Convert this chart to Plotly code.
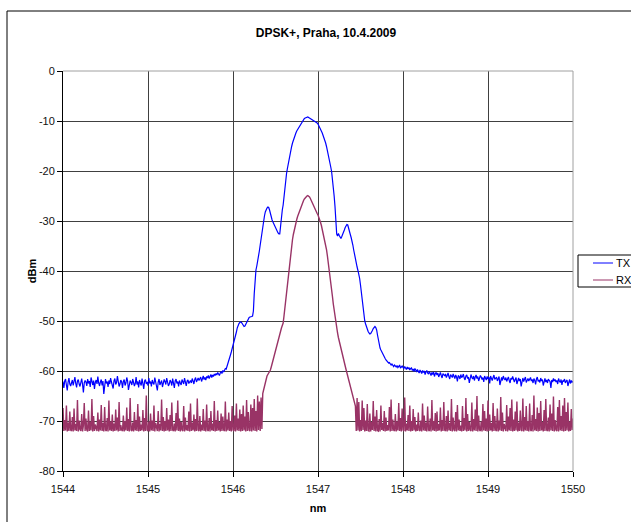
import plotly.graph_objects as go

# Wavelength sampling grid of the spectrum (nm)
wl_start = 1544.0
wl_step = 0.01

# TX spectrum (dBm), one value per 0.01 nm, rows of 0.1 nm
tx_dbm = [
    -62.1, -63.4, -62.0, -61.6, -62.8, -63.9, -62.2, -61.4, -62.6, -63.0,
    -62.4, -61.8, -62.9, -62.1, -61.2, -62.5, -63.3, -62.0, -61.7, -62.6,
    -63.1, -62.3, -61.5, -62.7, -64.3, -62.4, -61.9, -62.2, -63.0, -61.6,
    -62.5, -62.0, -63.2, -61.3, -62.1, -62.8, -61.9, -63.6, -62.3, -61.8,
    -62.6, -61.1, -62.4, -63.0, -62.2, -61.7, -62.9, -62.0, -64.6, -62.3,
    -61.6, -62.5, -62.1, -63.2, -61.9, -62.6, -61.4, -62.2, -62.8, -63.5,
    -62.0, -61.5, -62.7, -62.3, -61.0, -62.4, -63.1, -62.6, -61.8, -62.2,
    -63.4, -62.1, -61.7, -62.9, -62.4, -61.3, -62.0, -63.8, -62.5, -61.9,
    -62.3, -62.8, -61.6, -62.2, -63.0, -62.5, -61.2, -62.7, -62.1, -63.3,
    -61.8, -62.4, -62.9, -61.5, -62.3, -63.6, -62.0, -61.7, -62.6, -62.2,
    -62.9, -61.4, -62.5, -62.1, -63.1, -61.8, -62.4, -62.7, -61.3, -62.0,
    -62.6, -63.9, -62.2, -61.6, -62.8, -62.3, -61.9, -63.2, -62.5, -61.7,
    -62.1, -62.7, -61.4, -62.4, -63.0, -62.6, -61.8, -62.2, -62.9, -61.5,
    -62.3, -63.4, -62.0, -61.6, -62.5, -62.1, -63.1, -61.9, -62.4, -62.8,
    -61.7, -62.2, -62.6, -61.4, -62.3, -63.0, -62.0, -61.8, -62.5, -62.1,
    -61.9, -62.4, -61.5, -62.0, -62.6, -61.7, -61.3, -62.2, -61.8, -61.4,
    -61.9, -61.6, -61.2, -62.1, -61.5, -61.0, -61.7, -61.3, -61.8, -61.1,
    -61.4, -60.9, -61.5, -61.0, -60.7, -61.3, -60.8, -61.1, -60.6, -60.9,
    -60.5, -60.8, -60.3, -60.6, -60.9, -60.4, -60.1, -60.5, -59.9, -60.2,
    -59.8, -59.5, -59.6, -59.1, -58.6, -58.2, -57.5, -56.8, -56.2, -55.6,
    -55.1, -54.3, -53.5, -52.8, -52.2, -51.4, -50.8, -50.5, -50.3, -50.2,
    -50.3, -50.6, -50.9, -51.1, -51.0, -50.6, -50.2, -49.8, -49.5, -49.3,
    -49.2, -49.2, -49.1, -49.0, -48.0, -44.5, -40.8, -39.8, -39.0, -38.2,
    -37.2, -36.0, -34.8, -33.5, -32.3, -31.2, -30.0, -29.0, -28.2, -27.7,
    -27.4, -27.2, -27.3, -27.8, -28.6, -29.3, -29.8, -30.2, -30.6, -31.0,
    -31.4, -31.8, -32.1, -32.4, -32.6, -32.6, -31.0, -29.0, -27.8, -26.8,
    -24.8, -23.0, -21.4, -20.5, -19.5, -18.5, -17.6, -16.7, -15.9, -15.1,
    -14.4, -13.8, -13.3, -12.8, -12.4, -12.0, -11.7, -11.4, -11.0, -10.7,
    -10.4, -10.1, -9.9, -9.7, -9.5, -9.4, -9.3, -9.2, -9.2, -9.3,
    -9.4, -9.5, -9.6, -9.8, -9.9, -10.0, -10.1, -10.2, -10.3, -10.4,
    -10.6, -10.9, -11.2, -11.6, -12.0, -12.4, -12.9, -13.3, -13.8, -14.4,
    -15.1, -15.8, -16.6, -17.4, -18.3, -19.2, -20.1, -21.5, -23.0, -25.0,
    -27.1, -30.0, -32.6, -33.0, -32.5, -32.9, -33.4, -33.5, -33.1, -32.5,
    -32.2, -31.8, -31.3, -30.9, -30.7, -30.8, -31.3, -32.0, -32.7, -33.3,
    -33.9, -34.8, -35.8, -36.8, -37.7, -38.5, -39.2, -39.9, -40.5, -41.5,
    -42.8, -44.5, -46.2, -47.6, -48.8, -50.0, -50.6, -51.2, -51.7, -52.1,
    -52.4, -52.6, -52.5, -52.3, -51.9, -51.5, -51.2, -51.1, -51.3, -51.8,
    -52.8, -53.9, -54.8, -55.4, -55.8, -56.2, -56.6, -57.0, -57.3, -57.5,
    -57.8, -58.1, -58.2, -58.4, -58.3, -58.6, -58.8, -58.6, -58.9, -59.1,
    -58.8, -59.0, -59.2, -58.9, -59.3, -59.1, -58.8, -59.4, -59.2, -59.0,
    -59.3, -59.5, -59.1, -59.4, -59.7, -59.2, -59.6, -59.3, -59.8, -59.5,
    -59.4, -59.9, -59.6, -60.1, -59.5, -59.8, -60.2, -59.7, -60.0, -60.4,
    -59.8, -60.1, -60.5, -59.9, -60.3, -60.0, -60.7, -60.2, -59.9, -60.4,
    -60.6, -60.1, -60.4, -60.9, -60.3, -60.7, -60.2, -61.1, -60.5, -60.3,
    -60.8, -60.4, -61.2, -60.6, -60.3, -60.9, -61.4, -60.5, -60.8, -61.0,
    -60.6, -61.3, -60.9, -60.4, -61.1, -61.6, -60.7, -60.9, -61.3, -60.6,
    -61.0, -61.5, -60.8, -61.2, -62.1, -60.9, -61.1, -61.6, -60.7, -61.3,
    -61.1, -60.6, -61.4, -61.8, -61.0, -60.8, -61.5, -61.2, -62.4, -61.0,
    -60.7, -61.3, -61.6, -61.0, -61.9, -61.2, -60.8, -61.5, -61.1, -62.0,
    -61.4, -60.9, -61.2, -61.7, -61.3, -62.2, -61.0, -61.5, -61.8, -61.1,
    -61.6, -61.2, -62.5, -61.0, -61.4, -61.9, -61.3, -60.8, -61.7, -61.4,
    -61.2, -62.0, -61.5, -61.1, -62.8, -61.6, -61.3, -61.9, -61.0, -61.5,
    -61.8, -61.3, -62.1, -61.6, -61.2, -61.9, -62.4, -61.4, -61.7, -61.1,
    -61.5, -62.2, -61.7, -61.3, -62.6, -61.8, -61.4, -62.0, -61.6, -63.1,
    -61.9, -61.4, -62.1, -61.7, -61.2, -62.3, -61.8, -61.5, -62.0, -61.6,
    -61.3, -62.0, -61.7, -62.4, -61.5, -61.9, -62.7, -61.6, -61.2, -62.1,
    -61.8, -62.3, -61.4, -62.0, -61.7, -62.9, -61.9, -61.5, -62.2, -61.8,
    -62.4, -61.6, -61.9, -62.1, -63.4, -61.8, -62.2, -61.5, -62.0, -61.7,
    -62.2, -61.9, -62.6, -61.5, -62.0, -62.3, -61.7, -62.8, -61.9, -62.1,
    -61.6, -62.4, -62.0, -61.8, -63.0, -62.2, -61.7, -62.5, -61.9, -62.3,
    -62.0,
]

# RX spectrum (dBm), same sampling
rx_dbm = [
    -67.4, -72.0, -69.8, -71.9, -66.9, -72.1, -70.3, -72.0, -68.1, -71.8,
    -72.0, -69.2, -72.1, -67.5, -71.9, -70.6, -72.0, -65.8, -72.1, -69.9,
    -71.7, -72.0, -68.6, -72.1, -70.9, -66.4, -72.0, -69.5, -71.8, -72.1,
    -67.9, -72.0, -70.2, -71.9, -65.6, -72.1, -69.0, -72.0, -70.7, -71.8,
    -72.0, -68.3, -72.1, -69.7, -71.9, -66.8, -72.0, -70.4, -72.1, -67.2,
    -71.8, -72.0, -69.4, -72.1, -65.9, -71.9, -70.1, -72.0, -68.7, -72.1,
    -70.5, -72.0, -67.7, -71.9, -69.3, -72.1, -66.2, -72.0, -70.8, -71.8,
    -72.0, -68.9, -72.1, -70.0, -71.9, -67.3, -72.0, -69.6, -72.1, -65.4,
    -71.8, -72.0, -70.3, -72.1, -68.2, -71.9, -69.8, -72.0, -66.6, -72.1,
    -69.1, -72.0, -70.7, -71.9, -67.8, -72.1, -69.4, -72.0, -64.9, -71.8,
    -72.0, -70.1, -72.1, -68.5, -71.9, -69.9, -72.0, -66.9, -72.1, -70.4,
    -71.8, -72.0, -68.0, -72.1, -70.6, -71.9, -65.7, -72.0, -69.2, -72.1,
    -70.0, -72.0, -67.4, -71.9, -69.7, -72.1, -68.8, -72.0, -66.3, -71.8,
    -72.0, -70.5, -72.1, -68.4, -71.9, -65.9, -72.0, -69.5, -72.1, -70.2,
    -71.8, -72.0, -67.0, -72.1, -69.3, -71.9, -70.8, -72.0, -68.1, -72.1,
    -66.5, -72.0, -70.3, -71.9, -68.7, -72.1, -69.6, -72.0, -65.5, -71.8,
    -72.0, -69.0, -72.1, -70.7, -71.9, -67.6, -72.0, -69.9, -72.1, -66.7,
    -71.8, -72.0, -69.4, -72.1, -68.0, -71.9, -70.5, -72.0, -66.0, -72.1,
    -69.8, -72.0, -67.9, -71.9, -70.2, -72.1, -68.5, -72.0, -69.1, -71.8,
    -72.0, -66.1, -72.1, -69.7, -71.9, -68.3, -72.0, -70.0, -72.1, -67.0,
    -71.8, -72.0, -68.9, -72.1, -66.5, -71.9, -69.5, -72.0, -67.7, -72.1,
    -68.6, -72.0, -66.9, -71.9, -69.1, -72.1, -65.8, -72.0, -68.2, -71.8,
    -72.0, -66.7, -72.1, -67.4, -71.9, -65.6, -72.0, -68.0, -72.1, -64.9,
    -71.8, -66.1, -72.0, -65.3, -71.6, -64.5, -63.8, -63.0, -62.3, -61.6,
    -61.0, -60.7, -60.4, -60.2, -59.8, -59.2, -58.5, -57.8, -57.2, -56.6,
    -56.0, -55.4, -54.7, -54.0, -53.3, -52.6, -52.0, -51.4, -50.9, -50.4,
    -49.0, -47.4, -45.8, -43.9, -42.1, -40.5, -39.0, -37.6, -36.2, -34.9,
    -33.7, -32.7, -31.8, -31.0, -30.3, -29.7, -29.1, -28.6, -28.1, -27.7,
    -27.2, -26.7, -26.3, -25.9, -25.6, -25.3, -25.1, -25.0, -24.9, -25.0,
    -25.2, -25.5, -25.9, -26.3, -26.8, -27.2, -27.6, -27.9, -28.2, -28.5,
    -28.8, -29.2, -29.7, -30.3, -30.9, -31.6, -32.3, -33.0, -33.7, -34.6,
    -35.7, -36.9, -38.1, -39.4, -40.7, -42.1, -43.6, -45.1, -46.6, -48.0,
    -49.4, -50.5, -51.5, -52.4, -53.3, -54.1, -54.9, -55.6, -56.3, -57.0,
    -57.7, -58.4, -59.0, -59.7, -60.4, -61.0, -61.6, -62.3, -63.0, -63.7,
    -64.4, -65.0, -65.6, -66.3, -67.0, -72.0, -65.4, -71.9, -66.2, -72.1,
    -69.8, -72.0, -65.9, -71.8, -67.4, -72.1, -69.9, -72.0, -66.6, -71.9,
    -72.0, -68.5, -72.1, -70.2, -71.8, -66.0, -72.0, -69.1, -72.1, -67.8,
    -71.9, -72.0, -69.6, -72.1, -66.9, -71.8, -70.4, -72.0, -68.0, -72.1,
    -69.3, -72.0, -70.8, -71.9, -67.2, -72.1, -65.7, -72.0, -69.7, -71.8,
    -72.0, -68.6, -72.1, -70.1, -71.9, -66.4, -72.0, -69.4, -72.1, -67.5,
    -71.8, -72.0, -65.3, -72.1, -70.5, -71.9, -68.8, -72.0, -66.9, -72.1,
    -70.0, -72.0, -67.6, -71.9, -69.2, -72.1, -70.7, -72.0, -68.3, -71.8,
    -72.0, -69.9, -72.1, -66.5, -71.9, -68.9, -72.0, -70.3, -72.1, -67.1,
    -71.8, -72.0, -69.5, -72.1, -65.8, -71.9, -70.0, -72.0, -68.4, -72.1,
    -68.1, -72.0, -70.6, -71.9, -67.3, -72.1, -69.8, -72.0, -66.2, -71.8,
    -72.0, -69.0, -72.1, -67.9, -71.9, -70.4, -72.0, -65.6, -72.1, -69.3,
    -71.8, -72.0, -68.2, -72.1, -66.8, -71.9, -69.7, -72.0, -70.9, -72.1,
    -67.0, -72.0, -69.4, -71.9, -65.4, -72.1, -68.6, -72.0, -70.2, -71.8,
    -72.0, -66.3, -72.1, -69.6, -71.9, -67.7, -72.0, -65.0, -72.1, -68.9,
    -71.8, -72.0, -70.1, -72.1, -66.6, -71.9, -68.0, -72.0, -69.5, -72.1,
    -65.9, -72.0, -68.7, -71.9, -70.4, -72.1, -66.4, -72.0, -69.0, -71.8,
    -72.0, -67.5, -72.1, -69.9, -71.9, -65.2, -72.0, -68.3, -72.1, -70.6,
    -71.8, -72.0, -66.8, -72.1, -69.1, -71.9, -67.4, -72.0, -65.7, -72.1,
    -69.7, -72.0, -68.1, -71.9, -66.1, -72.1, -70.3, -72.0, -67.9, -71.8,
    -72.0, -65.5, -72.1, -69.2, -71.9, -67.0, -72.0, -70.0, -72.1, -66.5,
    -71.8, -72.0, -68.8, -72.1, -64.9, -71.9, -69.6, -72.0, -67.3, -72.1,
    -68.4, -72.0, -66.0, -71.9, -70.2, -72.1, -67.8, -72.0, -65.6, -71.8,
    -72.0, -69.3, -72.1, -66.7, -71.9, -68.5, -72.0, -65.1, -72.1, -69.8,
    -71.8, -72.0, -67.2, -72.1, -65.8, -71.9, -69.0, -72.0, -66.9, -72.1,
    -65.4, -72.0, -68.2, -71.9, -66.3, -72.1, -70.1, -72.0, -67.6, -71.8,
    -69.5,
]

wavelength_nm = [round(wl_start + i * wl_step, 2) for i in range(len(tx_dbm))]

x_ticks = [1544, 1545, 1546, 1547, 1548, 1549, 1550]
y_ticks = [0, -10, -20, -30, -40, -50, -60, -70, -80]
y_tick_text = ["0", "-10", "-20", "-30", "-40", "-50", "-60", "-70", "-80"]
series_names = ["TX", "RX"]
series_colors = ["#0000ff", "#993366"]

FONT = "Liberation Sans, Arial, sans-serif"

PL, PR, PT, PB = 63, 573, 71, 471  # plot area in page pixels
W, H = 631, 522


def px(x):
    return (x - PL) / (PR - PL)


def py(y):
    return (PB - y) / (PB - PT)


fig = go.Figure()
fig.add_trace(go.Scatter(x=wavelength_nm, y=tx_dbm, name=series_names[0], mode="lines",
                         line=dict(color=series_colors[0], width=1.2), showlegend=False))
fig.add_trace(go.Scatter(x=wavelength_nm, y=rx_dbm, name=series_names[1], mode="lines",
                         line=dict(color=series_colors[1], width=1.4), showlegend=False))

axis_common = dict(
    showgrid=True, gridcolor="#404040", gridwidth=1,
    showline=True, linecolor="#000000", linewidth=1,
    ticks="outside", ticklen=5, tickcolor="#000000", tickwidth=1,
    zeroline=False, tickfont=dict(family=FONT, size=11, color="#111111"),
)

shapes = [
    dict(type="line", xref="paper", yref="paper", x0=0, x1=1, y0=1, y1=1,
         line=dict(color="#a0a0a0", width=1), layer="above"),
    dict(type="line", xref="paper", yref="paper", x0=1, x1=1, y0=0, y1=1,
         line=dict(color="#a0a0a0", width=1), layer="above"),
    # outer chart border
    dict(type="rect", xref="paper", yref="paper",
         x0=px(7), x1=px(660), y0=py(560), y1=py(11),
         line=dict(color="#000000", width=1), fillcolor="rgba(0,0,0,0)", layer="above"),
    # legend box
    dict(type="rect", xref="paper", yref="paper",
         x0=px(578), x1=px(660), y0=py(287), y1=py(255),
         line=dict(color="#000000", width=1), fillcolor="white", layer="above"),
]
annotations = []
for k, (name, col) in enumerate(zip(series_names, series_colors)):
    yy = 263 + 17 * k
    shapes.append(dict(type="line", xref="paper", yref="paper",
                       x0=px(593), x1=px(613), y0=py(yy), y1=py(yy),
                       line=dict(color=col, width=1), layer="above"))
    annotations.append(dict(text=name, xref="paper", yref="paper", x=px(614), y=py(yy),
                            xanchor="left", yanchor="middle", showarrow=False,
                            font=dict(family=FONT, size=11, color="#000000")))

fig.update_layout(
    width=W, height=H,
    margin=dict(l=PL, r=W - PR, t=PT, b=H - PB, autoexpand=False),
    paper_bgcolor="white", plot_bgcolor="white",
    font=dict(family=FONT, size=11, color="#000000"),
    showlegend=False,
    title=dict(text="<b>DPSK+, Praha, 10.4.2009</b>", x=px(326), xref="paper", xanchor="center",
               y=1 - 33 / H, yref="container", yanchor="middle",
               font=dict(family=FONT, size=12, color="#000000")),
    xaxis=dict(range=[1544, 1550], tickvals=x_ticks, ticklabelstandoff=3,
               title=dict(text="<b>nm</b>", font=dict(family=FONT, size=11), standoff=10),
               **axis_common),
    yaxis=dict(range=[-80, 0], tickvals=y_ticks, ticktext=y_tick_text,
               title=dict(text="<b>dBm</b>", font=dict(family=FONT, size=11), standoff=0),
               **axis_common),
    shapes=shapes,
    annotations=annotations,
)

fig.write_html(
    "out.html",
    config={"displayModeBar": False},
    post_script="document.documentElement.style.margin='0';document.body.style.margin='0';"
                "document.body.style.overflow='hidden';document.documentElement.style.overflow='hidden';",
)
